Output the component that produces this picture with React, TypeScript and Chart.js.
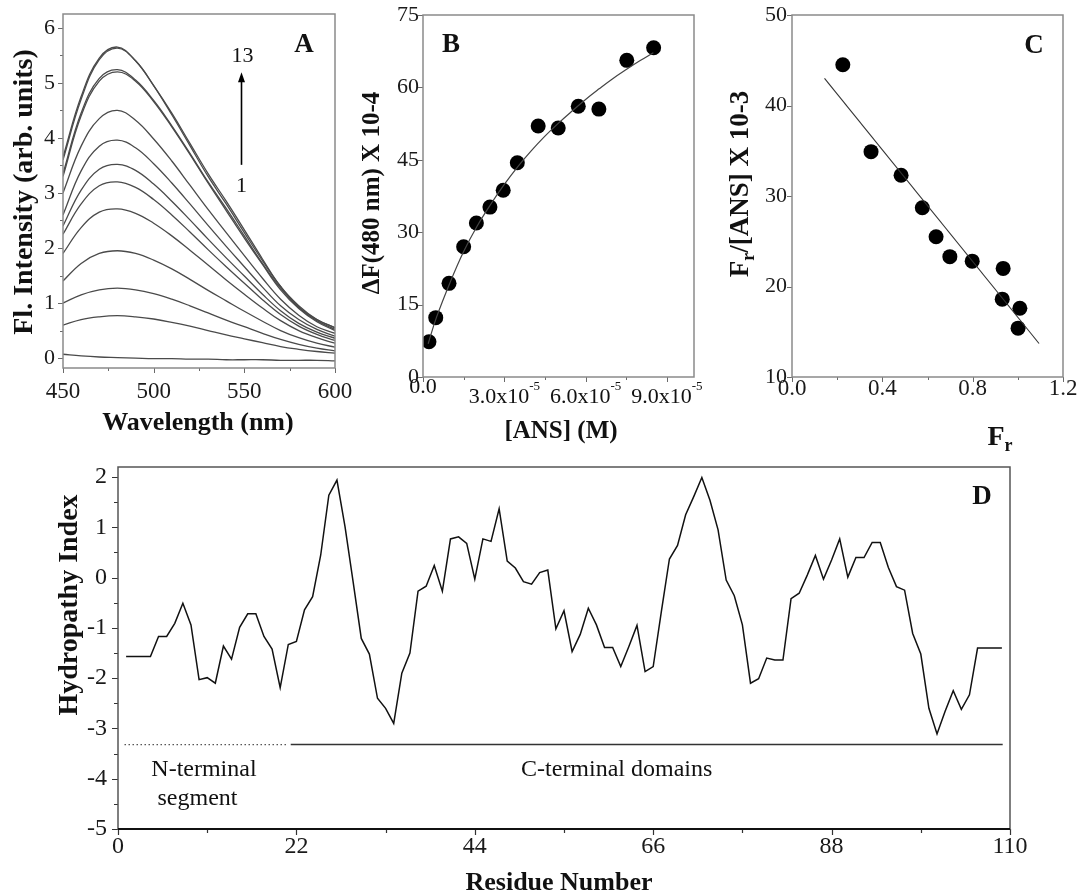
import React, { useEffect, useRef } from 'react';
import { Chart, registerables } from 'chart.js';

Chart.register(...registerables);

const SERIF = '"Liberation Serif", "Times New Roman", Times, serif';

/* ---------------- Panel A: ANS emission spectra (1 .. 13) ---------------- */
const WAVELENGTH_NM = [450, 460, 470, 480, 490, 500, 510, 520, 530, 540, 550, 560, 570, 580, 590, 600];
const SPECTRUM_01 = [0.07, 0.04, 0.02, 0.01, 0.0, -0.01, -0.01, -0.02, -0.02, -0.03, -0.03, -0.03, -0.04, -0.04, -0.04, -0.05];
const SPECTRUM_02 = [0.6, 0.7, 0.75, 0.77, 0.75, 0.71, 0.65, 0.58, 0.5, 0.42, 0.35, 0.28, 0.21, 0.16, 0.12, 0.09];
const SPECTRUM_03 = [1.0, 1.15, 1.24, 1.27, 1.24, 1.17, 1.07, 0.95, 0.82, 0.69, 0.57, 0.45, 0.34, 0.25, 0.18, 0.13];
const SPECTRUM_04 = [1.4, 1.72, 1.9, 1.95, 1.9, 1.78, 1.62, 1.43, 1.23, 1.04, 0.85, 0.67, 0.5, 0.37, 0.27, 0.2];
const SPECTRUM_05 = [1.9, 2.37, 2.65, 2.71, 2.63, 2.45, 2.22, 1.96, 1.69, 1.42, 1.16, 0.91, 0.68, 0.5, 0.37, 0.27];
const SPECTRUM_06 = [2.25, 2.8, 3.13, 3.2, 3.1, 2.88, 2.6, 2.29, 1.97, 1.66, 1.36, 1.06, 0.79, 0.58, 0.43, 0.32];
const SPECTRUM_07 = [2.4, 3.05, 3.43, 3.52, 3.41, 3.16, 2.85, 2.51, 2.16, 1.82, 1.49, 1.16, 0.86, 0.63, 0.47, 0.36];
const SPECTRUM_08 = [2.6, 3.4, 3.85, 3.96, 3.82, 3.53, 3.18, 2.8, 2.41, 2.03, 1.66, 1.29, 0.95, 0.7, 0.52, 0.4];
const SPECTRUM_09 = [3.0, 3.85, 4.35, 4.5, 4.32, 3.98, 3.58, 3.14, 2.7, 2.28, 1.86, 1.45, 1.07, 0.78, 0.57, 0.45];
const SPECTRUM_10 = [3.3, 4.4, 5.03, 5.2, 5.03, 4.66, 4.2, 3.7, 3.18, 2.68, 2.18, 1.7, 1.24, 0.9, 0.66, 0.5];
const SPECTRUM_11 = [3.35, 4.45, 5.08, 5.24, 5.05, 4.68, 4.22, 3.72, 3.2, 2.72, 2.22, 1.72, 1.27, 0.92, 0.68, 0.52];
const SPECTRUM_12 = [3.6, 4.7, 5.42, 5.63, 5.4, 4.95, 4.42, 3.86, 3.3, 2.8, 2.28, 1.77, 1.3, 0.93, 0.7, 0.55];
const SPECTRUM_13 = [3.65, 4.75, 5.45, 5.65, 5.4, 4.95, 4.45, 3.9, 3.35, 2.85, 2.33, 1.8, 1.3, 0.95, 0.7, 0.55];
const SPECTRA = [
  SPECTRUM_01, SPECTRUM_02, SPECTRUM_03, SPECTRUM_04, SPECTRUM_05, SPECTRUM_06, SPECTRUM_07,
  SPECTRUM_08, SPECTRUM_09, SPECTRUM_10, SPECTRUM_11, SPECTRUM_12, SPECTRUM_13,
];
const A_X_TICKS = [450, 475, 500, 525, 550, 575, 600];
const A_X_LABELS = ['450', '', '500', '', '550', '', '600'];
const A_Y_TICKS = [0, 0.5, 1, 1.5, 2, 2.5, 3, 3.5, 4, 4.5, 5, 5.5, 6];
const A_Y_LABELS = ['0', '', '1', '', '2', '', '3', '', '4', '', '5', '', '6'];

/* ---------------- Panel B: ΔF(480 nm) vs [ANS] ---------------- */
const ANS_M = [0.22e-5, 0.47e-5, 0.96e-5, 1.5e-5, 1.97e-5, 2.47e-5, 2.96e-5, 3.48e-5, 4.25e-5, 4.99e-5, 5.73e-5, 6.49e-5, 7.52e-5, 8.51e-5];
const DELTA_F = [7.3, 12.3, 19.4, 27.0, 31.9, 35.2, 38.7, 44.4, 52.0, 51.6, 56.1, 55.5, 65.6, 68.2];
const B_FIT_X = [0.19e-5, 0.5e-5, 1.0e-5, 1.5e-5, 2.0e-5, 2.5e-5, 3.0e-5, 3.5e-5, 4.0e-5, 4.5e-5, 5.0e-5, 5.5e-5, 6.0e-5, 6.5e-5, 7.0e-5, 7.5e-5, 8.0e-5, 8.5e-5];
const B_FIT_Y = [6.9, 12.4, 19.6, 26.0, 31.3, 35.8, 39.9, 43.6, 46.9, 49.9, 52.6, 55.1, 57.5, 59.7, 61.8, 63.7, 65.5, 67.2];
const B_X_TICKS = [0, 1.5e-5, 3e-5, 4.5e-5, 6e-5, 7.5e-5, 9e-5];
const B_X_LABELS = ['0.0', '', '3.0x10', '', '6.0x10', '', '9.0x10'];
const B_X_EXPONENTS = ['', '', '-5', '', '-5', '', '-5'];
const B_Y_TICKS = [0, 15, 30, 45, 60, 75];
const B_Y_LABELS = ['0', '15', '30', '45', '60', '75'];

/* ---------------- Panel C: Scatchard-type plot ---------------- */
const FR = [0.225, 0.35, 0.483, 0.577, 0.638, 0.699, 0.798, 0.935, 0.931, 1.009, 1.001];
const FR_OVER_ANS = [44.5, 34.9, 32.3, 28.7, 25.5, 23.3, 22.8, 22.0, 18.6, 17.6, 15.4];
const C_FIT_X = [0.144, 1.094];
const C_FIT_Y = [43.0, 13.7];
const C_X_TICKS = [0, 0.2, 0.4, 0.6, 0.8, 1.0, 1.2];
const C_X_LABELS = ['0.0', '', '0.4', '', '0.8', '', '1.2'];
const C_Y_TICKS = [10, 20, 30, 40, 50];
const C_Y_LABELS = ['10', '20', '30', '40', '50'];

/* ---------------- Panel D: hydropathy profile ---------------- */
const RESIDUE = [
  1, 2, 3, 4, 5, 6, 7, 8, 9, 10, 11, 12, 13, 14, 15, 16, 17, 18, 19, 20,
  21, 22, 23, 24, 25, 26, 27, 28, 29, 30, 31, 32, 33, 34, 35, 36, 37, 38, 39, 40,
  41, 42, 43, 44, 45, 46, 47, 48, 49, 50, 51, 52, 53, 54, 55, 56, 57, 58, 59, 60,
  61, 62, 63, 64, 65, 66, 67, 68, 69, 70, 71, 72, 73, 74, 75, 76, 77, 78, 79, 80,
  81, 82, 83, 84, 85, 86, 87, 88, 89, 90, 91, 92, 93, 94, 95, 96, 97, 98, 99, 100,
  101, 102, 103, 104, 105, 106, 107, 108, 109,
];
const HYDROPATHY = [
  -1.57, -1.57, -1.57, -1.57, -1.17, -1.17, -0.91, -0.51, -0.94, -2.03,
  -1.99, -2.1, -1.36, -1.62, -0.99, -0.72, -0.72, -1.17, -1.42, -2.19,
  -1.33, -1.27, -0.64, -0.38, 0.45, 1.64, 1.94, 1.01, -0.09, -1.21,
  -1.52, -2.4, -2.6, -2.9, -1.9, -1.5, -0.27, -0.17, 0.24, -0.27,
  0.77, 0.81, 0.68, -0.03, 0.77, 0.72, 1.37, 0.33, 0.19, -0.08,
  -0.13, 0.1, 0.15, -1.02, -0.66, -1.47, -1.13, -0.61, -0.94, -1.39,
  -1.39, -1.77, -1.37, -0.95, -1.87, -1.77, -0.68, 0.37, 0.64, 1.25,
  1.61, 1.99, 1.54, 0.95, -0.05, -0.36, -0.94, -2.1, -2.01, -1.6,
  -1.64, -1.64, -0.42, -0.31, 0.05, 0.44, -0.03, 0.35, 0.77, 0.01,
  0.4, 0.4, 0.7, 0.7, 0.2, -0.18, -0.25, -1.11, -1.52, -2.6,
  -3.11, -2.66, -2.25, -2.62, -2.33, -1.4, -1.4, -1.4, -1.4,
];
const N_SEGMENT_SPAN = [0.8, 20.9];
const C_DOMAIN_SPAN = [21.3, 109.1];
const DOMAIN_BAR_LEVEL = -3.32;
const D_X_TICKS = [0, 11, 22, 33, 44, 55, 66, 77, 88, 99, 110];
const D_X_LABELS = ['0', '', '22', '', '44', '', '66', '', '88', '', '110'];
const D_Y_TICKS = [-5, -4.5, -4, -3.5, -3, -2.5, -2, -1.5, -1, -0.5, 0, 0.5, 1, 1.5, 2];
const D_Y_LABELS = ['-5', '', '-4', '', '-3', '', '-2', '', '-1', '', '0', '', '1', '', '2'];

/* ---------------- helpers ---------------- */
type Seg = { t: string; size: number; bold?: boolean; dy?: number };

function rich(
  ctx: CanvasRenderingContext2D,
  segs: Seg[],
  x: number,
  y: number,
  align: 'left' | 'center' | 'right' = 'center',
  rotate = 0,
  color = '#111',
) {
  ctx.save();
  ctx.translate(x, y);
  if (rotate) ctx.rotate(rotate);
  ctx.fillStyle = color;
  ctx.textBaseline = 'alphabetic';
  ctx.textAlign = 'left';
  const fonts = segs.map((s) => `${s.bold ? 'bold ' : ''}${s.size}px ${SERIF}`);
  const widths = segs.map((s, i) => {
    ctx.font = fonts[i];
    return ctx.measureText(s.t).width;
  });
  const total = widths.reduce((p, w) => p + w, 0);
  let cx = align === 'center' ? -total / 2 : align === 'right' ? -total : 0;
  segs.forEach((s, i) => {
    ctx.font = fonts[i];
    ctx.fillText(s.t, cx, s.dy || 0);
    cx += widths[i];
  });
  ctx.restore();
}

type Marks = { labels: string[]; major: number; minor: number; out: boolean };
type Decor = {
  frame: string;
  frameWidth: number;
  tick: string;
  tickWidth: number;
  x: Marks;
  y: Marks;
  draw?: (chart: any, ctx: CanvasRenderingContext2D) => void;
};

function decorPlugin(d: Decor) {
  return {
    id: 'decor',
    afterDatasetsDraw(chart: any) {
      const { ctx, chartArea: a, scales } = chart;
      ctx.save();
      ctx.strokeStyle = d.tick;
      ctx.lineWidth = d.tickWidth;
      ctx.beginPath();
      scales.x.ticks.forEach((t: any, i: number) => {
        const px = Math.round(scales.x.getPixelForValue(t.value)) + 0.5;
        const len = d.x.labels[i] ? d.x.major : d.x.minor;
        const dir = d.x.out ? 1 : -1;
        ctx.moveTo(px, a.bottom);
        ctx.lineTo(px, a.bottom + dir * len);
      });
      scales.y.ticks.forEach((t: any, i: number) => {
        const py = Math.round(scales.y.getPixelForValue(t.value)) + 0.5;
        const len = d.y.labels[i] ? d.y.major : d.y.minor;
        const dir = d.y.out ? 1 : -1;
        ctx.moveTo(a.left, py);
        ctx.lineTo(a.left - dir * len, py);
      });
      ctx.stroke();
      ctx.strokeStyle = d.frame;
      ctx.lineWidth = d.frameWidth;
      ctx.strokeRect(a.left, a.top, a.right - a.left, a.bottom - a.top);
      if (d.draw) d.draw(chart, ctx);
      ctx.restore();
    },
  };
}

function axis(
  min: number,
  max: number,
  values: number[],
  labels: string[],
  fit: (s: any) => void,
  tickFont: number,
  padding: number,
  showLabels = true,
) {
  return {
    type: 'linear' as const,
    min,
    max,
    grid: { display: false, drawTicks: false },
    border: { display: false },
    afterBuildTicks: (s: any) => {
      s.ticks = values.map((v) => ({ value: v }));
    },
    afterFit: fit,
    ticks: {
      autoSkip: false,
      maxRotation: 0,
      minRotation: 0,
      padding,
      color: '#1a1a1a',
      font: { family: SERIF, size: tickFont, lineHeight: 1 },
      callback: (_v: any, i: number) => (showLabels ? labels[i] : ''),
    },
  };
}

function areaFit(cw: number, ch: number, l: number, t: number, r: number, b: number) {
  return {
    padding: { left: 0, top: t, right: cw - r, bottom: 0 },
    xFit: (s: any) => {
      s.height = ch - b;
      s.paddingLeft = 0;
      s.paddingRight = 0;
      s.paddingTop = 0;
      s.paddingBottom = 0;
    },
    yFit: (s: any) => {
      s.width = l;
      s.paddingLeft = 0;
      s.paddingRight = 0;
      s.paddingTop = 0;
      s.paddingBottom = 0;
    },
  };
}

const pts = (xs: number[], ys: number[]) => xs.map((x, i) => ({ x, y: ys[i] }));

const baseOptions = {
  responsive: false,
  animation: false as const,
  events: [] as any[],
  plugins: { legend: { display: false }, tooltip: { enabled: false } },
};

/* ---------------- panel builders ---------------- */
const TOP_W = [360, 360, 359];
const TOP_H = 460;
const D_W = 1079;
const D_H = 454;

function panelA(canvas: HTMLCanvasElement) {
  const f = areaFit(TOP_W[0], TOP_H, 63, 14, 335, 368);
  return new Chart(canvas, {
    type: 'line',
    data: {
      datasets: SPECTRA.map((s) => ({
        data: pts(WAVELENGTH_NM, s),
        borderColor: '#4a4a4a',
        borderWidth: 1.3,
        pointRadius: 0,
        tension: 0.4,
        fill: false,
      })),
    },
    options: {
      ...baseOptions,
      layout: { padding: f.padding },
      scales: {
        x: axis(450, 600, A_X_TICKS, A_X_LABELS, f.xFit, 23, 12),
        y: axis(-0.18, 6.25, A_Y_TICKS, A_Y_LABELS, f.yFit, 22, 8),
      },
    },
    plugins: [
      decorPlugin({
        frame: '#8a8a8a',
        frameWidth: 1.5,
        tick: '#6a6a6a',
        tickWidth: 1,
        x: { labels: A_X_LABELS, major: 5, minor: 3, out: true },
        y: { labels: A_Y_LABELS, major: 5, minor: 3, out: true },
        draw: (chart, ctx) => {
          const xs = chart.scales.x;
          const ys = chart.scales.y;
          rich(ctx, [{ t: 'Wavelength (nm)', size: 26, bold: true }], 198, 430);
          rich(ctx, [{ t: 'Fl. Intensity (arb. units)', size: 28, bold: true }], 32, 192, 'center', -Math.PI / 2);
          rich(ctx, [{ t: 'A', size: 27, bold: true }], 304, 52);
          // titration arrow (spectrum 1 -> 13)
          const ax = Math.round(xs.getPixelForValue(548.2)) + 0.5;
          const y0 = ys.getPixelForValue(3.51);
          const y1 = ys.getPixelForValue(5.19);
          ctx.strokeStyle = '#000';
          ctx.lineWidth = 1.6;
          ctx.beginPath();
          ctx.moveTo(ax, y0);
          ctx.lineTo(ax, y1 + 8);
          ctx.stroke();
          ctx.fillStyle = '#000';
          ctx.beginPath();
          ctx.moveTo(ax, y1);
          ctx.lineTo(ax - 3.5, y1 + 10);
          ctx.lineTo(ax + 3.5, y1 + 10);
          ctx.closePath();
          ctx.fill();
          rich(ctx, [{ t: '13', size: 22 }], ax + 1, ys.getPixelForValue(5.37));
          rich(ctx, [{ t: '1', size: 22 }], ax, ys.getPixelForValue(3.01));
        },
      }),
    ],
  } as any);
}

function panelB(canvas: HTMLCanvasElement) {
  const f = areaFit(TOP_W[1], TOP_H, 63, 15, 334, 377);
  return new Chart(canvas, {
    type: 'scatter',
    data: {
      datasets: [
        {
          data: pts(B_FIT_X, B_FIT_Y),
          showLine: true,
          borderColor: '#444',
          borderWidth: 1.2,
          pointRadius: 0,
          tension: 0.4,
        },
        {
          data: pts(ANS_M, DELTA_F),
          showLine: false,
          pointRadius: 7.5,
          pointBackgroundColor: '#000',
          pointBorderWidth: 0,
        },
      ],
    },
    options: {
      ...baseOptions,
      layout: { padding: f.padding },
      scales: {
        x: axis(0, 1e-4, B_X_TICKS, B_X_LABELS, f.xFit, 22, 0, false),
        y: axis(0, 75, B_Y_TICKS, B_Y_LABELS, f.yFit, 22, 4),
      },
    },
    plugins: [
      decorPlugin({
        frame: '#8a8a8a',
        frameWidth: 1.5,
        tick: '#6a6a6a',
        tickWidth: 1,
        x: { labels: B_X_LABELS, major: 5, minor: 3, out: true },
        y: { labels: B_Y_LABELS, major: 5, minor: 3, out: true },
        draw: (chart, ctx) => {
          const xs = chart.scales.x;
          const a = chart.chartArea;
          B_X_TICKS.forEach((v, i) => {
            if (!B_X_LABELS[i]) return;
            const px = xs.getPixelForValue(v);
            if (B_X_EXPONENTS[i]) {
              rich(ctx, [
                { t: B_X_LABELS[i], size: 22 },
                { t: B_X_EXPONENTS[i], size: 13, dy: -13 },
              ], px, a.bottom + 26);
            } else {
              rich(ctx, [{ t: B_X_LABELS[i], size: 22 }], px, a.bottom + 16);
            }
          });
          rich(ctx, [{ t: '[ANS] (M)', size: 25, bold: true }], 201, 438);
          rich(ctx, [{ t: '\u0394F(480 nm) X 10-4', size: 25, bold: true }], 19, 193, 'center', -Math.PI / 2);
          rich(ctx, [{ t: 'B', size: 27, bold: true }], 91, 52);
        },
      }),
    ],
  } as any);
}

function panelC(canvas: HTMLCanvasElement) {
  const f = areaFit(TOP_W[2], TOP_H, 72, 15, 343, 377);
  return new Chart(canvas, {
    type: 'scatter',
    data: {
      datasets: [
        {
          data: pts(C_FIT_X, C_FIT_Y),
          showLine: true,
          borderColor: '#333',
          borderWidth: 1.1,
          pointRadius: 0,
        },
        {
          data: pts(FR, FR_OVER_ANS),
          showLine: false,
          pointRadius: 7.5,
          pointBackgroundColor: '#000',
          pointBorderWidth: 0,
        },
      ],
    },
    options: {
      ...baseOptions,
      layout: { padding: f.padding },
      scales: {
        x: axis(0, 1.2, C_X_TICKS, C_X_LABELS, f.xFit, 23, 0),
        y: axis(10, 50, C_Y_TICKS, C_Y_LABELS, f.yFit, 22, 5),
      },
    },
    plugins: [
      decorPlugin({
        frame: '#8a8a8a',
        frameWidth: 1.5,
        tick: '#6a6a6a',
        tickWidth: 1,
        x: { labels: C_X_LABELS, major: 5, minor: 3, out: true },
        y: { labels: C_Y_LABELS, major: 5, minor: 3, out: true },
        draw: (chart, ctx) => {
          rich(ctx, [
            { t: 'F', size: 28, bold: true },
            { t: 'r', size: 18, bold: true, dy: 6 },
          ], 280, 445);
          rich(ctx, [
            { t: 'F', size: 27, bold: true },
            { t: 'r', size: 18, bold: true, dy: 6 },
            { t: '/[ANS] X 10-3', size: 27, bold: true },
          ], 28, 184, 'center', -Math.PI / 2);
          rich(ctx, [{ t: 'C', size: 27, bold: true }], 314, 53);
        },
      }),
    ],
  } as any);
}

function panelD(canvas: HTMLCanvasElement) {
  const f = areaFit(D_W, D_H, 118, 27, 1010, 389);
  return new Chart(canvas, {
    type: 'line',
    data: {
      datasets: [
        {
          data: pts(RESIDUE, HYDROPATHY),
          borderColor: '#111',
          borderWidth: 1.5,
          pointRadius: 0,
          tension: 0,
        },
        {
          data: pts(N_SEGMENT_SPAN, [DOMAIN_BAR_LEVEL, DOMAIN_BAR_LEVEL]),
          borderColor: '#555',
          borderWidth: 1.2,
          borderDash: [1.5, 2.5],
          pointRadius: 0,
        },
        {
          data: pts(C_DOMAIN_SPAN, [DOMAIN_BAR_LEVEL, DOMAIN_BAR_LEVEL]),
          borderColor: '#333',
          borderWidth: 1.4,
          pointRadius: 0,
        },
      ],
    },
    options: {
      ...baseOptions,
      layout: { padding: f.padding },
      scales: {
        x: axis(0, 110, D_X_TICKS, D_X_LABELS, f.xFit, 24, 6),
        y: axis(-5, 2.2, D_Y_TICKS, D_Y_LABELS, f.yFit, 24, 11),
      },
    },
    plugins: [
      decorPlugin({
        frame: '#555',
        frameWidth: 1.5,
        tick: '#333',
        tickWidth: 1.2,
        x: { labels: D_X_LABELS, major: 6, minor: 4, out: true },
        y: { labels: D_Y_LABELS, major: 6, minor: 4, out: true },
        draw: (chart, ctx) => {
          const xs = chart.scales.x;
          const ys = chart.scales.y;
          const a = chart.chartArea;
          ctx.strokeStyle = '#111';
          ctx.lineWidth = 2.2;
          ctx.beginPath();
          ctx.moveTo(a.left, a.bottom);
          ctx.lineTo(a.right, a.bottom);
          ctx.stroke();
          rich(ctx, [{ t: 'N-terminal', size: 24 }], xs.getPixelForValue(10.6), ys.getPixelForValue(-3.94));
          rich(ctx, [{ t: 'segment', size: 24 }], xs.getPixelForValue(9.8), ys.getPixelForValue(-4.53));
          rich(ctx, [{ t: 'C-terminal domains', size: 24 }], xs.getPixelForValue(61.5), ys.getPixelForValue(-3.94));
          rich(ctx, [{ t: 'Residue Number', size: 26, bold: true }], 559, 450);
          rich(ctx, [{ t: 'Hydropathy Index', size: 28, bold: true }], 77, 165, 'center', -Math.PI / 2);
          rich(ctx, [{ t: 'D', size: 27, bold: true }], 982, 64);
        },
      }),
    ],
  } as any);
}

export default function App() {
  const refA = useRef<HTMLCanvasElement>(null);
  const refB = useRef<HTMLCanvasElement>(null);
  const refC = useRef<HTMLCanvasElement>(null);
  const refD = useRef<HTMLCanvasElement>(null);

  useEffect(() => {
    const charts = [
      panelA(refA.current as HTMLCanvasElement),
      panelB(refB.current as HTMLCanvasElement),
      panelC(refC.current as HTMLCanvasElement),
      panelD(refD.current as HTMLCanvasElement),
    ];
    return () => charts.forEach((c) => c.destroy());
  }, []);

  const cs = (left: number, top: number, w: number, h: number): React.CSSProperties => ({
    position: 'absolute',
    left,
    top,
    width: w,
    height: h,
  });

  return (
    <div style={{ position: 'absolute', left: 0, top: 0, width: 1079, height: 894, background: '#fff' }}>
      <canvas ref={refA} width={TOP_W[0]} height={TOP_H} style={cs(0, 0, TOP_W[0], TOP_H)} />
      <canvas ref={refB} width={TOP_W[1]} height={TOP_H} style={cs(360, 0, TOP_W[1], TOP_H)} />
      <canvas ref={refC} width={TOP_W[2]} height={TOP_H} style={cs(720, 0, TOP_W[2], TOP_H)} />
      <canvas ref={refD} width={D_W} height={D_H} style={cs(0, 440, D_W, D_H)} />
    </div>
  );
}
